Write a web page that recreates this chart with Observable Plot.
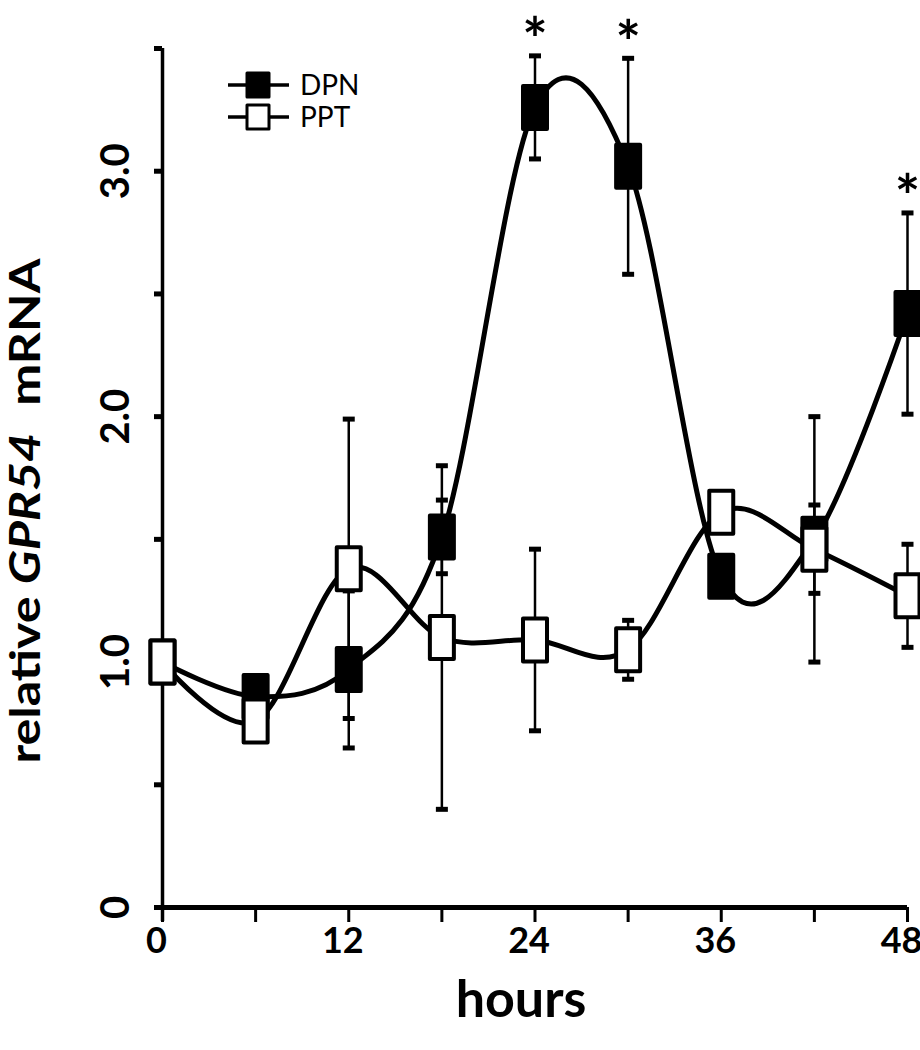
<!DOCTYPE html>
<html><head><meta charset="utf-8">
<script src="https://cdn.jsdelivr.net/npm/d3@7"></script>
<script src="https://cdn.jsdelivr.net/npm/@observablehq/plot@0.6"></script>
<style>
body{margin:0;background:#fff;}
#wrap{position:relative;width:920px;height:1050px;}
#legend{position:absolute;left:0;top:0;}
</style></head><body><div id="wrap"></div>
<script>
// ---- data ----
const hours = [0, 6, 12, 18, 24, 30, 36, 42, 48];
const dpnMean = [1.00, 0.86, 0.97, 1.51, 3.26, 3.02, 1.35, 1.50, 2.42];
const dpnErr  = [0.04, 0.04, 0.32, 0.15, 0.21, 0.44, 0.05, 0.50, 0.41];
const pptMean = [1.00, 0.76, 1.38, 1.10, 1.09, 1.05, 1.61, 1.46, 1.27];
const pptErr  = [0.04, 0.05, 0.61, 0.70, 0.37, 0.12, 0.05, 0.18, 0.21];
const dpnSignificant = [false, false, false, false, true, true, false, false, true];
const seriesNames = ["DPN", "PPT"];
const xTicks = [0, 6, 12, 18, 24, 30, 36, 42, 48];
const xTickLabels = [0, 12, 24, 36, 48];
const yTicks = [0, 0.5, 1, 1.5, 2, 2.5, 3, 3.5];
const yTickLabels = [0, 1, 2, 3];
const xTitle = "hours";
const yTitle = "relative GPR54 mRNA";

const dpn = hours.map((h, i) => ({h, v: dpnMean[i], e: dpnErr[i], sig: dpnSignificant[i]}));
const ppt = hours.map((h, i) => ({h, v: pptMean[i], e: pptErr[i]}));
const stars = dpn.filter(d => d.sig);

const boxSymbol = {draw(ctx) { const w = 12, h = 21.5; ctx.moveTo(-w, -h); ctx.lineTo(w, -h); ctx.lineTo(w, h); ctx.lineTo(-w, h); ctx.closePath(); }};
const capSymbol = {draw(ctx) { ctx.rect(-6, -2.5, 12, 5); }};

function seriesMarks(data, fill) {
  return [
    Plot.ruleX(data, {x: "h", y1: d => d.v - d.e, y2: d => d.v + d.e, stroke: "black", strokeWidth: 2.5}),
    Plot.dot(data, {x: "h", y: d => d.v + d.e, symbol: capSymbol, fill: "black", stroke: "none"}),
    Plot.dot(data, {x: "h", y: d => d.v - d.e, symbol: capSymbol, fill: "black", stroke: "none"}),
    Plot.line(data, {x: "h", y: "v", curve: "cardinal", stroke: "black", strokeWidth: 5}),
    Plot.dot(data, {x: "h", y: "v", symbol: boxSymbol, fill, stroke: "black", strokeWidth: 4, strokeLinejoin: "round"})
  ];
}

const chart = Plot.plot({
  width: 920, height: 1050,
  marginLeft: 162, marginRight: 13, marginTop: 48, marginBottom: 143,
  x: {domain: [0, 48], label: null},
  y: {domain: [0, 3.5], label: null},
  style: {fontFamily: "Lato, 'Open Sans', sans-serif", color: "black", background: "white", overflow: "visible"},
  marks: [
    Plot.axisX({ticks: xTicks, tickSize: 15, tickFormat: () => "", strokeWidth: 3, label: null}),
    Plot.axisY({ticks: yTicks, tickSize: 8, tickFormat: () => "", strokeWidth: 5, label: null}),
    Plot.ruleY([0], {strokeWidth: 5, insetLeft: -7}),
    Plot.ruleX([0], {strokeWidth: 3.5, insetBottom: -14}),
    Plot.text(yTickLabels, {y: d => d, text: d => d === 0 ? "0" : d.toFixed(1), frameAnchor: "left", textAnchor: "middle", lineAnchor: "middle", dx: -46, rotate: -90, fontSize: 40, fontWeight: "bold"}),
    Plot.text(xTickLabels, {x: d => d, text: d => String(d), frameAnchor: "bottom", textAnchor: "middle", lineAnchor: "middle", dx: -6, dy: 34, fontSize: 36, fontWeight: "bold"}),
    Plot.text([xTitle], {text: d => d, frameAnchor: "bottom", textAnchor: "middle", lineAnchor: "middle", dx: -14, dy: 93, fontSize: 52, fontWeight: "bold"}),
    Plot.text([yTitle], {text: d => d, frameAnchor: "left", textAnchor: "middle", lineAnchor: "middle", dx: -136, dy: 33, rotate: -90, fontSize: 42, fontWeight: "bold"}),
    ...seriesMarks(dpn, "black"),
    ...seriesMarks(ppt, "white"),
    Plot.text(stars, {x: "h", y: d => d.v + d.e, text: () => "*", dy: -14, fontSize: 60, fontWeight: "bold"})
  ]
});

// style the y title: italic gene name, stretched along its length like the reference
d3.select(chart).selectAll("text").filter(function() { return this.textContent === yTitle; }).each(function() {
  const t = d3.select(this);
  t.text(null);
  t.attr("textLength", 505).attr("lengthAdjust", "spacingAndGlyphs");
  t.append("tspan").text("relative ");
  t.append("tspan").attr("font-style", "italic").text("GPR54");
  t.append("tspan").attr("dx", "0.3em").text(" mRNA");
});

const wrap = document.getElementById("wrap");
wrap.appendChild(chart);

// legend
const leg = d3.select(wrap).append("svg").attr("id", "legend").attr("width", 420).attr("height", 160);
const fills = {DPN: "black", PPT: "white"};
seriesNames.forEach((name, i) => {
  const y = 85 + i * 32;
  leg.append("line").attr("x1", 228).attr("x2", 289).attr("y1", y).attr("y2", y).attr("stroke", "black").attr("stroke-width", 3.5);
  leg.append("rect").attr("x", 247).attr("y", y - 12).attr("width", 22).attr("height", 24)
    .attr("fill", fills[name]).attr("stroke", "black").attr("stroke-width", 3).attr("stroke-linejoin", "round");
  leg.append("text").attr("x", 300).attr("y", y).attr("dy", "0.36em").attr("font-family", "Lato, 'Open Sans', sans-serif")
    .attr("font-size", 28).text(name);
});
</script></body></html>
